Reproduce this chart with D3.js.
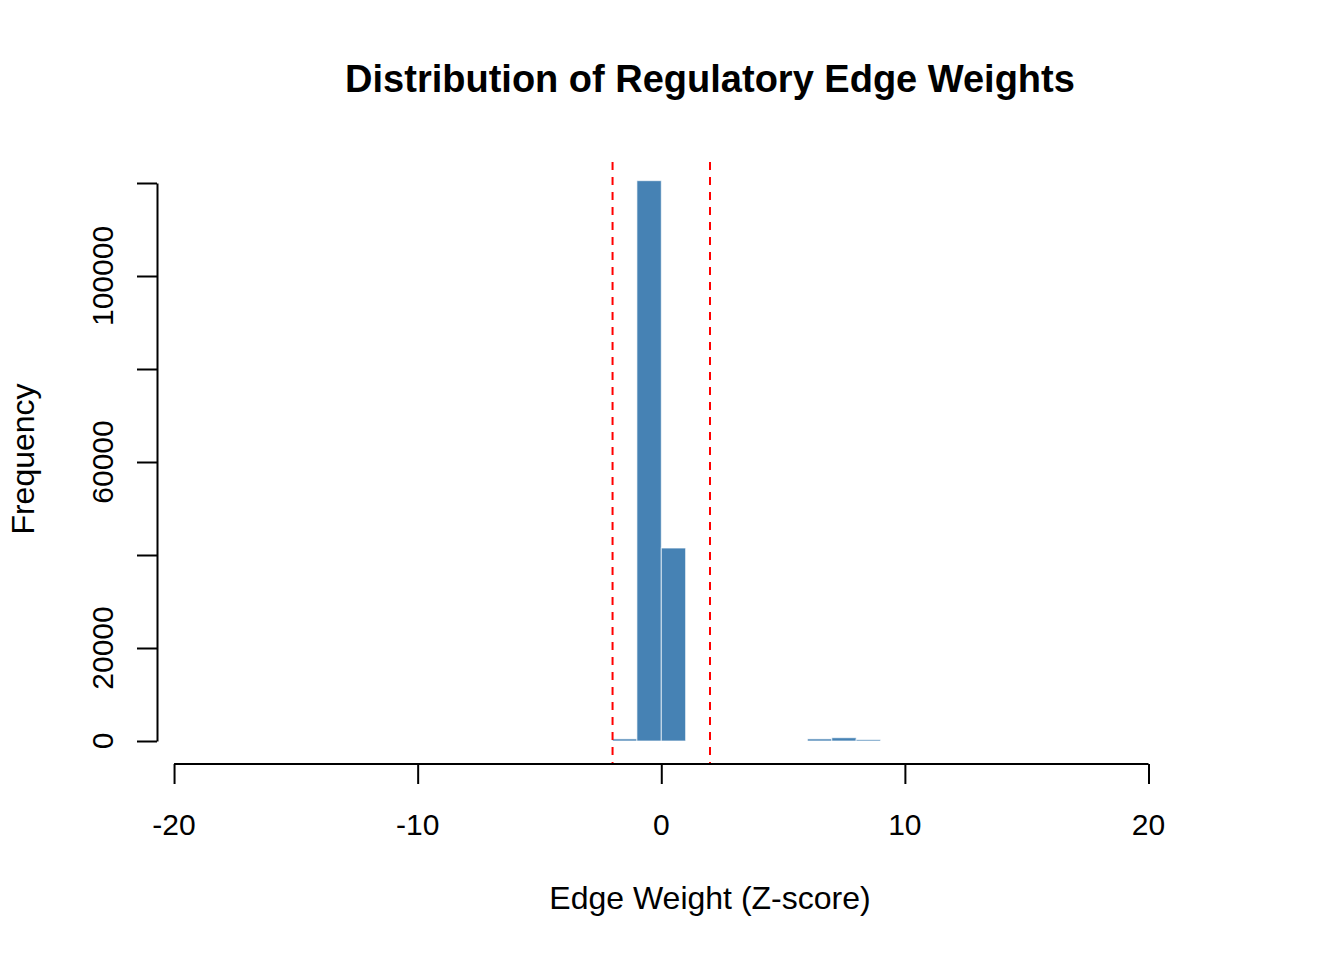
<!DOCTYPE html>
<html>
<head>
<meta charset="utf-8">
<script src="https://cdn.jsdelivr.net/npm/d3@7"></script>
<style>
  body { margin: 0; background: #fff; }
  text { font-family: "Liberation Sans", Arial, Helvetica, sans-serif; fill: #000; }
</style>
</head>
<body>
<div id="chart"></div>
<script>
// histogram bins (left edge, width 1) and counts
const binStarts = [-2, -1, 0, 1, 2, 3, 4, 5, 6, 7, 8]
const binCounts = [450, 120500, 41500, 0, 0, 0, 0, 0, 450, 700, 300]
const binWidth = 1

// axis ticks
const xTicks = [-20, -10, 0, 10, 20]
const yTicks = [0, 20000, 40000, 60000, 80000, 100000, 120000]
const yTickLabels = ["0", "20000", "", "60000", "", "100000", ""]

// dashed threshold lines
const thresholds = [-2, 2]

const width = 1344
const height = 960

const svg = d3.select("#chart")
    .append("svg")
    .attr("width", width)
    .attr("height", height)

// plot region
const plot = { left: 157, right: 1263, top: 158, bottom: 764 }

const x = d3.scaleLinear().domain([-20.7, 24.7]).range([plot.left, plot.right])
const y = d3.scaleLinear().domain([0, 120000]).range([741, 183])

// bars
svg.append("g").selectAll("rect")
    .data(binStarts.map((s, i) => ({ x0: s, x1: s + binWidth, n: binCounts[i] })))
    .join("rect")
    .attr("x", d => x(d.x0))
    .attr("width", d => x(d.x1) - x(d.x0))
    .attr("y", d => y(d.n))
    .attr("height", d => y(0) - y(d.n))
    .attr("fill", "steelblue")
    .attr("stroke", "#ffffff")
    .attr("stroke-opacity", 0.7)
    .attr("stroke-width", 1)

// threshold lines
svg.append("g").selectAll("line")
    .data(thresholds)
    .join("line")
    .attr("x1", d => x(d)).attr("x2", d => x(d))
    .attr("y1", 162).attr("y2", plot.bottom)
    .attr("stroke", "#ff0000")
    .attr("stroke-width", 2)
    .attr("stroke-dasharray", "8,7")

// x axis
const xAxis = d3.axisBottom(x).tickValues(xTicks).tickSize(20).tickFormat("")
const xAxisGroup = svg.append("g")
    .attr("transform", `translate(0, ${plot.bottom})`)
    .call(xAxis)
xAxisGroup.select(".domain").remove()
xAxisGroup.append("line")
    .attr("x1", x(xTicks[0])).attr("x2", x(xTicks[xTicks.length - 1]))
    .attr("stroke", "#000").attr("stroke-width", 2)
xAxisGroup.selectAll(".tick line").attr("stroke", "#000").attr("stroke-width", 2)

svg.append("g").selectAll("text")
    .data(xTicks)
    .join("text")
    .attr("x", d => x(d))
    .attr("y", 835)
    .attr("text-anchor", "middle")
    .attr("font-size", 30)
    .text(d => d < 0 ? "-" + Math.abs(d) : d)

// y axis
const yAxis = d3.axisLeft(y).tickValues(yTicks).tickSize(20).tickSizeOuter(0).tickFormat("")
const yAxisGroup = svg.append("g")
    .attr("transform", `translate(${plot.left}, 0)`)
    .call(yAxis)
yAxisGroup.select(".domain").attr("stroke", "#000").attr("stroke-width", 2)
yAxisGroup.selectAll(".tick line").attr("stroke", "#000").attr("stroke-width", 2)

svg.append("g").selectAll("text")
    .data(yTicks.map((v, i) => ({ v, label: yTickLabels[i] })).filter(d => d.label))
    .join("text")
    .attr("transform", d => `translate(113, ${y(d.v)}) rotate(-90)`)
    .attr("text-anchor", "middle")
    .attr("font-size", 30)
    .text(d => d.label)

// titles
svg.append("text")
    .attr("x", 710).attr("y", 92)
    .attr("text-anchor", "middle")
    .attr("font-size", 38)
    .attr("font-weight", "bold")
    .text("Distribution of Regulatory Edge Weights")

svg.append("text")
    .attr("x", 710).attr("y", 909)
    .attr("text-anchor", "middle")
    .attr("font-size", 32)
    .text("Edge Weight (Z-score)")

svg.append("text")
    .attr("transform", "translate(34, 459) rotate(-90)")
    .attr("text-anchor", "middle")
    .attr("font-size", 32)
    .text("Frequency")
</script>
</body>
</html>
